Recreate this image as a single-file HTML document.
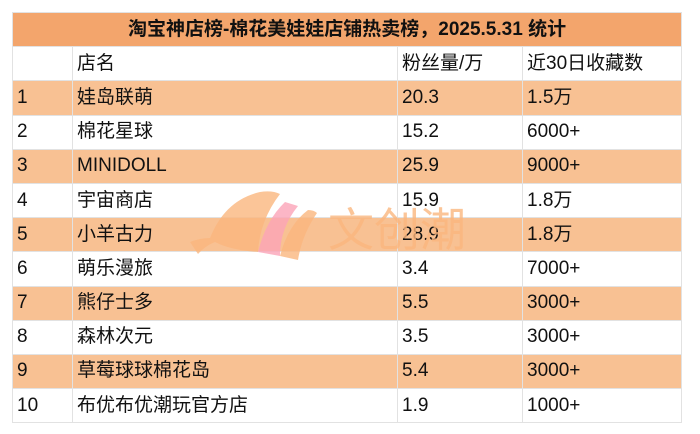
<!DOCTYPE html>
<html><head><meta charset="utf-8"><style>
body{margin:0;width:700px;height:434px;background:#fff;position:relative;overflow:hidden;font-family:"Liberation Sans","Noto Sans CJK SC",sans-serif;color:#111}
table{position:absolute;left:12px;top:12px;width:669px;border-collapse:collapse;table-layout:fixed}
td{height:33.2px;padding:0 0 0 4px;border:1.5px solid #e2e2e2;font-size:19px;line-height:32px;white-space:nowrap;overflow:hidden}
tr.t td{background:#F3A56C;font-weight:bold;text-align:center;font-size:19px;padding:0}
tr.o td{background:#F8C193}
.wm{position:absolute;left:180px;top:180px;pointer-events:none;opacity:.8}
</style></head><body>
<table>
<colgroup><col style="width:60px"><col style="width:325px"><col style="width:125px"><col style="width:159px"></colgroup>
<tr class="t"><td colspan="4">淘宝神店榜-棉花美娃娃店铺热卖榜，2025.5.31 统计</td></tr>
<tr><td></td><td>店名</td><td>粉丝量/万</td><td>近30日收藏数</td></tr>
<tr class="o"><td>1</td><td>娃岛联萌</td><td>20.3</td><td>1.5万</td></tr>
<tr><td>2</td><td>棉花星球</td><td>15.2</td><td>6000+</td></tr>
<tr class="o"><td>3</td><td>MINIDOLL</td><td>25.9</td><td>9000+</td></tr>
<tr><td>4</td><td>宇宙商店</td><td>15.9</td><td>1.8万</td></tr>
<tr class="o"><td>5</td><td>小羊古力</td><td>28.9</td><td>1.8万</td></tr>
<tr><td>6</td><td>萌乐漫旅</td><td>3.4</td><td>7000+</td></tr>
<tr class="o"><td>7</td><td>熊仔士多</td><td>5.5</td><td>3000+</td></tr>
<tr><td>8</td><td>森林次元</td><td>3.5</td><td>3000+</td></tr>
<tr class="o"><td>9</td><td>草莓球球棉花岛</td><td>5.4</td><td>3000+</td></tr>
<tr><td>10</td><td>布优布优潮玩官方店</td><td>1.9</td><td>1000+</td></tr>
</table>
<svg class="wm" width="300" height="90" viewBox="0 0 300 90">
<path d="M10 62 Q20 58 30 58 Q45 20 80 12 Q92 10 100 14 Q80 40 78 72 Q50 70 35 62 Q25 66 18 74 Z" fill="#FBB77F"/>
<path d="M78 72 Q86 40 105 22 L118 26 Q100 48 100 76 Z" fill="#FCA5B8"/>
<path d="M100 76 Q108 45 128 30 Q134 30 137 33 Q122 55 118 80 Z" fill="#FBB77F"/>
<text x="148" y="66" font-size="46" fill="#FBB77F" font-family="Noto Sans CJK SC,sans-serif">文创潮</text>
</svg>
</body></html>
